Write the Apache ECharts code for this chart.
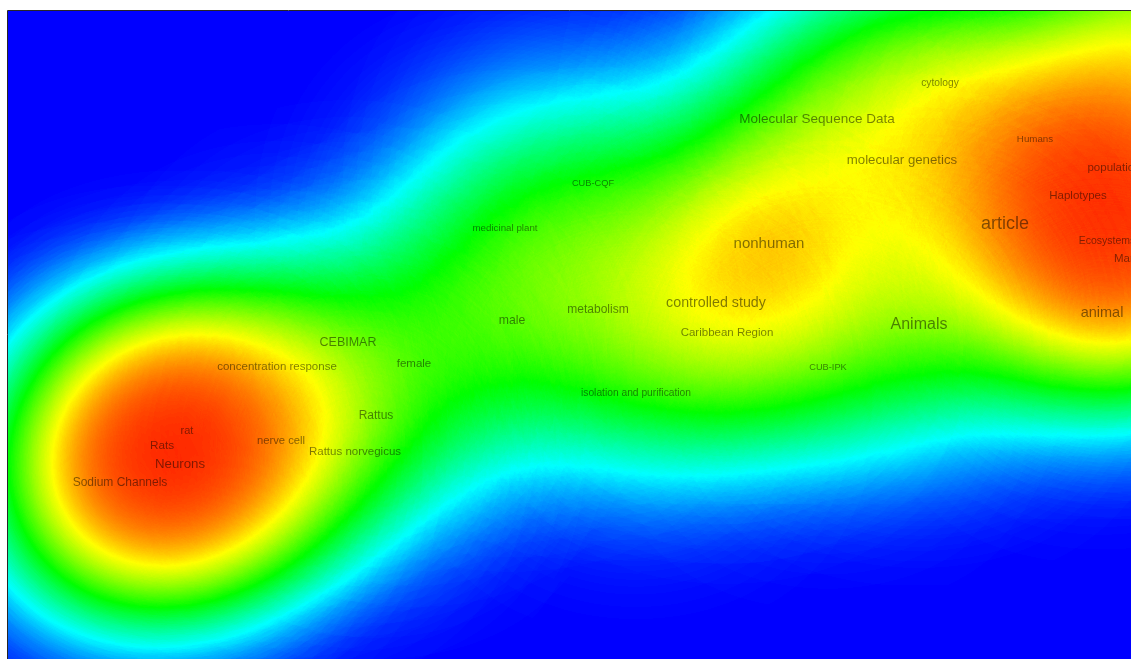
<!DOCTYPE html>
<html><head><meta charset="utf-8">
<script src="https://cdn.jsdelivr.net/npm/echarts@6/dist/echarts.min.js"></script>
<style>html,body{margin:0;padding:0;background:#fff;overflow:hidden}#c{width:1131px;height:659px}</style>
</head><body><div id="c"></div>
<script>
// Keyword map (map units, y upward)
const terms = ['cytology','Molecular Sequence Data','Humans','molecular genetics','population','CUB-CQF','Haplotypes','article','medicinal plant','nonhuman','Ecosystems','Marine Biology','animal','controlled study','Animals','metabolism','male','Caribbean Region','CEBIMAR','female','concentration response','CUB-IPK','isolation and purification','Rattus','rat','nerve cell','Rats','Rattus norvegicus','Neurons','Sodium Channels'];
const xs = [9.32,8.09,10.27,8.94,11.06,5.85,10.70,9.97,4.97,7.61,10.99,11.44,10.94,7.08,9.11,5.90,5.04,7.19,3.40,4.06,2.69,8.20,6.28,3.68,1.79,2.73,1.54,3.47,1.72,1.12];
const ys = [5.76,5.40,5.20,4.99,4.91,4.76,4.63,4.35,4.31,4.15,4.18,4.00,3.46,3.56,3.34,3.49,3.38,3.26,3.16,2.95,2.92,2.92,2.66,2.43,2.28,2.18,2.13,2.07,1.95,1.76];
const occurrences = [9,22,7,21,14,5,14,40,7,28,10,14,26,25,32,16,17,14,18,14,14,5,9,16,12,13,15,14,21,16];
// item weight used by the density view (0-100)
const densityWeights = [75,60,60,50,100,40,75,30,45,100,100,100,40,55,65,35,42,35,30,25,30,25,30,25,100,45,100,20,100,100];
// items lying beyond the cropped right edge (labels not visible)
const hiddenX = [11.60];
const hiddenY = [6.25];
const hiddenWeights = [100];
const densityColors = ['#0000ff','#00ffff','#00ff00','#ffff00','#ff0000'];
const mapW = 11.23, mapH = 6.48;

echarts.registerMap('plane', {
  type: 'FeatureCollection',
  features: [{type:'Feature', properties:{name:'plane'},
    geometry:{type:'Polygon', coordinates:[[[0,0],[mapW,0],[mapW,mapH],[0,mapH],[0,0]]]}}]
});

const chart = echarts.init(document.getElementById('c'), null, {renderer:'canvas'});
const heatData = terms.map((t,i)=>[xs[i], ys[i], densityWeights[i]])
  .concat(hiddenX.map((x,i)=>[x, hiddenY[i], hiddenWeights[i]]));
const labelData = terms.map((t,i)=>({name:t, value:[xs[i], ys[i], occurrences[i]],
  label:{fontSize: 8 + occurrences[i]/4}}));

chart.setOption({
  animation: false,
  backgroundColor: '#ffffff',
  geo: {
    map: 'plane', roam: false, silent: true, aspectScale: 1,
    left: 8, top: 11, width: 1123, height: 648,
    boundingCoords: [[0, mapH], [mapW, 0]],
    itemStyle: {areaColor: '#0000ff', borderWidth: 0},
    emphasis: {disabled: true}, label: {show: false}
  },
  visualMap: {
    type: 'continuous', show: false, min: 0, max: 100, seriesIndex: 0, dimension: 2,
    inRange: {color: densityColors}
  },
  series: [{
    type: 'heatmap', coordinateSystem: 'geo', data: heatData,
    pointSize: 100, blurSize: 160, minOpacity: 1, maxOpacity: 1, silent: true
  }, {
    type: 'scatter', coordinateSystem: 'geo', data: labelData, z: 5, silent: true,
    symbolSize: 1, itemStyle: {color: 'rgba(0,0,0,0)'},
    label: {show: true, position: 'inside', formatter: '{b}', color: 'rgba(0,0,0,0.62)',
      fontFamily: 'Liberation Sans, Arial, sans-serif'},
    labelLayout: {hideOverlap: false}
  }],
  graphic: [{
    type: 'polyline', z: 100, silent: true,
    shape: {points: [[7.5, 659], [7.5, 10.5], [1131, 10.5]]},
    style: {stroke: 'rgba(0,0,0,0.85)', lineWidth: 1, fill: null}
  }]
});
</script></body></html>
